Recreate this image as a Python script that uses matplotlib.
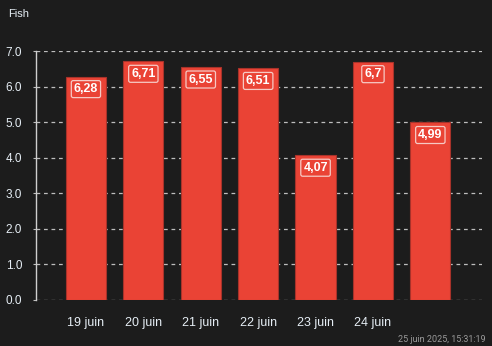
import matplotlib
matplotlib.use("Agg")
import matplotlib.pyplot as plt

plt.rcParams["font.family"] = ["Liberation Sans", "DejaVu Sans"]

days = ["19 juin", "20 juin", "21 juin", "22 juin", "23 juin", "24 juin", ""]
values = [6.28, 6.71, 6.55, 6.51, 4.07, 6.7, 4.99]
value_labels = ["6,28", "6,71", "6,55", "6,51", "4,07", "6,7", "4,99"]
y_ticks = [0.0, 1.0, 2.0, 3.0, 4.0, 5.0, 6.0, 7.0]
title = "Fish"
timestamp = "25 juin 2025, 15:31:19"

BG = "#1c1c1c"
BAR = "#ea4335"
BAR_EDGE = "#a8322a"
TEXT = "#e6eef5"
GRID = "#bdbdbd"

W, H = 492, 346
fig = plt.figure(figsize=(W / 100, H / 100), dpi=100, facecolor=BG)
ax = fig.add_axes([36 / W, (H - 300) / H, (482 - 36) / W, (300 - 51) / H])
ax.set_facecolor(BG)

x = list(range(len(values)))
ax.bar(x, values, width=0.70, color=BAR, edgecolor=BAR_EDGE, linewidth=0.8, zorder=3)

ax.set_xlim(-0.87, len(values) - 1 + 0.9)
ax.set_ylim(0, 7.0)
ax.set_yticks(y_ticks)
ax.set_yticklabels([f"{t:.1f}" for t in y_ticks], color=TEXT, fontsize=8.5)
ax.set_xticks(x)
ax.set_xticklabels(days, color=TEXT, fontsize=9)
ax.tick_params(axis="x", length=0, pad=12)
ax.tick_params(axis="y", length=2, color=GRID, pad=8)

ax.grid(axis="y", color=GRID, linestyle=(0, (3, 3)), linewidth=0.9, zorder=0)
for side in ["top", "right", "bottom"]:
    ax.spines[side].set_visible(False)
ax.spines["left"].set_color("#cfcfcf")
ax.spines["left"].set_linewidth(1.0)

for xi, v, lab in zip(x, values, value_labels):
    ax.annotate(lab, (xi, v), xytext=(0, -9), textcoords="offset points",
                ha="center", va="center", color="white", fontsize=9, fontweight="bold",
                bbox=dict(boxstyle="round,pad=0.2,rounding_size=0.15", facecolor=BAR,
                          edgecolor="#f6c9c4", linewidth=0.9),
                zorder=5)

fig.text(8 / W, 1 - 14 / H, title, color=TEXT, fontsize=8, ha="left", va="center")
fig.text(486 / W, 1 - 339 / H, timestamp, color="#9a9a9a", fontsize=6.5, ha="right",
         va="center", family=["Roboto", "DejaVu Sans"], fontstretch="condensed")

fig.savefig("out.png", dpi=100, facecolor=BG)
